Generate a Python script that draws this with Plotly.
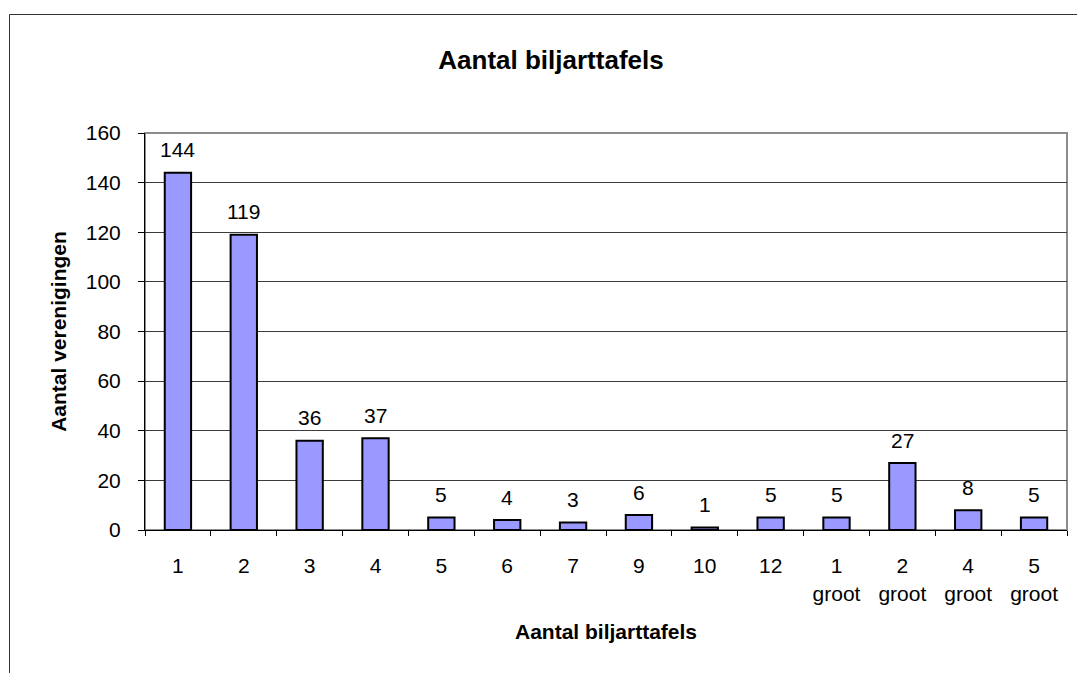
import plotly.graph_objects as go

categories = ["1", "2", "3", "4", "5", "6", "7", "9", "10", "12",
              "1<br>groot", "2<br>groot", "4<br>groot", "5<br>groot"]
values = [144, 119, 36, 37, 5, 4, 3, 6, 1, 5, 5, 27, 8, 5]
y_ticks = [0, 20, 40, 60, 80, 100, 120, 140, 160]

FONT = "Liberation Sans, Arial, sans-serif"

# the html body adds an 8px margin, so the figure is drawn 8px smaller
OFF = 8
W, H = 1085 - OFF, 673 - OFF
# plot area in page pixels: x 145..1067, y 133..530
L, R, T, B = 145 - OFF, 1067 - OFF, 133 - OFF, 530 - OFF
pw, ph = R - L, B - T


def px_x(x):
    return (x - OFF - L) / pw


def px_y(y):
    return (B - (y - OFF)) / ph


fig = go.Figure()
fig.add_trace(go.Bar(
    x=categories,
    y=values,
    marker=dict(color="#9999ff", line=dict(color="#000000", width=2)),
    hoverinfo="x+y",
))

# data labels above each bar (x given as category index)
for i, v in enumerate(values):
    fig.add_annotation(
        x=i, y=v, text=str(v), showarrow=False,
        yanchor="middle", yshift=23,
        font=dict(family=FONT, size=21, color="#000"),
    )

# outer chart border (runs off the right and bottom edges)
fig.add_shape(
    type="rect", xref="paper", yref="paper",
    x0=px_x(9.5), x1=px_x(1110), y0=px_y(14.5), y1=px_y(720),
    line=dict(color="#333333", width=1), fillcolor="rgba(0,0,0,0)",
    layer="below",
)
# plot area border (gray)
fig.add_shape(
    type="rect", xref="paper", yref="paper",
    x0=0, x1=1, y0=0, y1=1,
    line=dict(color="#8c8c8c", width=2), fillcolor="rgba(0,0,0,0)",
    layer="below",
)

fig.update_layout(
    width=W, height=H,
    margin=dict(l=L, r=W - R, t=T, b=H - B, autoexpand=False),
    paper_bgcolor="white",
    plot_bgcolor="white",
    font=dict(family=FONT, size=21, color="#000"),
    bargap=0.6,
    showlegend=False,
    title=dict(
        text="<b>Aantal biljarttafels</b>",
        x=(551 - OFF) / W, xref="container", xanchor="center",
        y=1 - (60 - OFF) / H, yref="container", yanchor="middle",
        font=dict(family=FONT, size=26, color="#000"),
    ),
    xaxis=dict(
        type="category",
        tickson="boundaries",
        ticks="outside", ticklen=5, tickcolor="#000", tickwidth=1,
        showgrid=False,
        showline=True, linecolor="#000", linewidth=1,
        ticklabelstandoff=17,
        tickfont=dict(family=FONT, size=21),
        title=dict(text="<b>Aantal biljarttafels</b>", standoff=20,
                   font=dict(family=FONT, size=21)),
        automargin=False,
    ),
    yaxis=dict(
        range=[0, 160],
        tickvals=y_ticks,
        ticks="outside", ticklen=6, tickcolor="#000", tickwidth=1,
        showgrid=True, gridcolor="#3c3c3c", gridwidth=1,
        showline=True, linecolor="#000", linewidth=1,
        zeroline=False,
        ticklabelstandoff=13,
        tickfont=dict(family=FONT, size=21),
        title=dict(text="<b>Aantal verenigingen</b>", standoff=13,
                   font=dict(family=FONT, size=21)),
        automargin=False,
    ),
)

fig.write_html("out.html")
